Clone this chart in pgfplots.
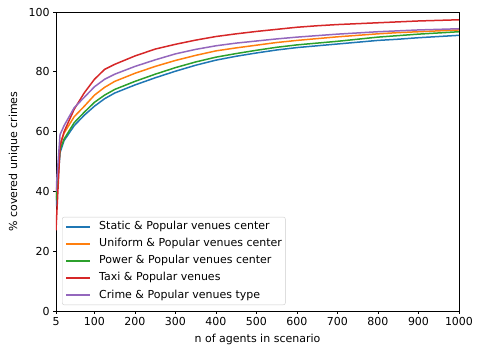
\documentclass[border=0pt]{standalone}
\usepackage{fontspec}
\setmainfont{DejaVu Sans}
\usepackage{pgfplots}
\usepackage{pgfplotstable}
\pgfplotsset{compat=1.18}
\definecolor{c0}{HTML}{1F77B4}
\definecolor{c1}{HTML}{FF7F0E}
\definecolor{c2}{HTML}{2CA02C}
\definecolor{c3}{HTML}{D62728}
\definecolor{c4}{HTML}{9467BD}
\pgfplotstableread{
x    stat  unif  pow   taxi  crime
5    35    38    37    27    40
15   53    56    54    55    59
25   57    59.5  57.5  60    62
50   62    65    63    67.5  68
75   65.5  68.5  66.5  73    71.5
100  68.5  72.2  69.8  77.5  75
125  71    74.8  72.2  80.8  77.5
150  72.9  76.8  74.1  82.5  79.2
200  75.6  79.5  76.8  85.3  81.8
250  78    81.8  79.2  87.6  84
300  80.2  83.8  81.4  89.2  86
350  82.2  85.5  83.3  90.6  87.5
400  83.9  87    84.9  91.8  88.7
450  85.2  88    86.1  92.7  89.6
500  86.3  88.9  87.2  93.5  90.3
550  87.3  89.8  88.2  94.2  91
600  88.1  90.5  89    94.9  91.6
650  88.7  91.1  89.6  95.4  92.1
700  89.3  91.7  90.2  95.8  92.6
750  89.9  92.2  90.9  96.1  93
800  90.5  92.7  91.6  96.4  93.4
850  90.9  93.1  92.1  96.7  93.7
900  91.4  93.4  92.6  97    94
950  91.8  93.7  93    97.2  94.2
1000 92.2  94    93.4  97.4  94.4
}\datatable
\newcommand{\ff}{\fontsize{11bp}{13.2bp}\selectfont}
\begin{document}
\ff
\begin{tikzpicture}
\begin{axis}[
  scale only axis,
  width=403bp, height=299bp,
  xmin=5, xmax=1000, ymin=0, ymax=100,
  xtick={5,100,200,300,400,500,600,700,800,900,1000},
  ytick={0,20,40,60,80,100},
  xtick pos=left, ytick pos=left,
  tick align=outside,
  major tick length=2.6bp,
  tick style={line width=0.6bp, black},
  axis line style={line width=0.6bp},
  /pgf/number format/assume math mode=true,
  /pgf/number format/1000 sep={},
  ticklabel style={font=\ff},
  xlabel={n of agents in scenario},
  ylabel={\% covered unique crimes},
  label style={font=\ff},
  xlabel style={at={(axis description cs:0.5,-0.0936)}, anchor=center},
  ylabel style={at={(axis description cs:-0.1042,0.5)}, anchor=center, rotate=0},
  legend cell align=left,
  legend style={at={(rel axis cs:0.015,0.02)}, anchor=south west,
    draw=black!20, rounded corners=2bp, fill=white,
    inner xsep=3.5bp, inner ysep=4.5bp,
    font=\ff,
    nodes={inner sep=0bp, text height=8bp, text depth=2.3bp},
    row sep=6.8bp, column sep=8bp},
  legend image code/.code={\draw[#1, line width=1.5bp] (0bp,0bp) -- (24bp,0bp);},
]
\addplot[c0, line width=1.5bp] table[x=x,y=stat] {\datatable};
\addlegendentry{Static \& Popular venues center}
\addplot[c1, line width=1.5bp] table[x=x,y=unif] {\datatable};
\addlegendentry{Uniform \& Popular venues center}
\addplot[c2, line width=1.5bp] table[x=x,y=pow] {\datatable};
\addlegendentry{Power \& Popular venues center}
\addplot[c3, line width=1.5bp] table[x=x,y=taxi] {\datatable};
\addlegendentry{Taxi \& Popular venues}
\addplot[c4, line width=1.5bp] table[x=x,y=crime] {\datatable};
\addlegendentry{Crime \& Popular venues type}
\end{axis}
\path ([shift={(-56bp,-38bp)}]current axis.south west) rectangle ([shift={(18bp,12bp)}]current axis.north east);
\end{tikzpicture}
\end{document}
